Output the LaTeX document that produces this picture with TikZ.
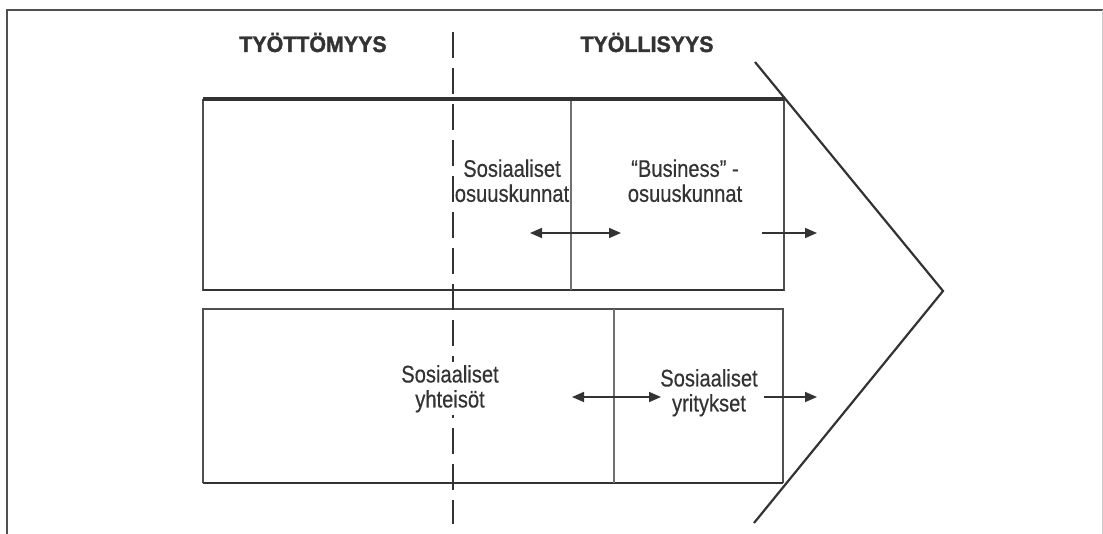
\documentclass[tikz,border=0pt]{standalone}
\usepackage{fontspec}
\setmainfont{Liberation Sans}
\newfontfamily\condfont[FakeStretch=0.84,FakeBold=0.4]{Liberation Sans}
\newfontfamily\headfont[FakeStretch=0.95,FakeBold=1.6]{Liberation Sans Bold}
\usetikzlibrary{arrows.meta}
\definecolor{ink}{HTML}{333333}
\definecolor{rule}{HTML}{505050}
\definecolor{thin}{HTML}{707070}
\tikzset{
  heading/.style={anchor=base, text=ink, inner sep=0pt,
    font=\headfont\fontsize{22.5}{22.5}\selectfont},
  label/.style={align=center, text=ink, inner sep=0pt,
    font=\condfont\fontsize{24}{25}\selectfont},
  boxline/.style={draw=rule, line width=1.4pt},
  heavyline/.style={draw=ink, line width=3.2pt},
  bottomline/.style={draw=ink, line width=2.4pt},
  divider/.style={draw=thin, line width=1.3pt},
  flow/.style={draw=ink, line width=1.6pt, -{Triangle[length=12pt,width=10pt]}},
  flow2/.style={draw=ink, line width=1.6pt, {Triangle[length=12pt,width=10pt]}-{Triangle[length=12pt,width=10pt]}},
  chevron/.style={draw=ink, line width=2.2pt},
}
\begin{document}
\begin{tikzpicture}[x=1pt,y=-1pt]
\useasboundingbox (0,0) rectangle (1103,534);

% outer frame
\draw[draw=rule, line width=2.2pt] (7,534) -- (7,10) -- (1103,10);
\draw[draw=black!20, line width=1pt] (1102,10) -- (1102,534);

% headings
\node[heading] (unemp) at (313,52) {TYÖTTÖMYYS};
\node[heading] (emp) at (647,52) {TYÖLLISYYS};

% upper box: social and business cooperatives
\draw[boxline] (203,99) -- (203,290) -- (784,290) -- (784,99);
\draw[heavyline] (203,99) -- (784,99);
\draw[bottomline] (203,290) -- (784,290);
\draw[divider] (571,101) -- (571,290);

% lower box: social communities and social enterprises
\draw[boxline] (203,483) -- (203,309) -- (783,309) -- (783,483);
\draw[bottomline] (203,483) -- (783,483);
\draw[divider] (614,309) -- (614,483);

% chevron pointing towards employment
\coordinate (cvTop) at (755,62);
\coordinate (cvTip) at (943,291);
\coordinate (cvBot) at (754,523);
\draw[chevron] (cvTop) -- (cvTip) -- (cvBot);

% border between unemployment and employment
\coordinate (sepTop) at (453,32);
\coordinate (sepBot) at (453,524);
\draw[draw=ink, line width=2.2pt, dash pattern=on 26pt off 10pt] (sepTop) -- (sepBot);

% labels
\node[label] (coop) at (512,180.75) {Sosiaaliset\\osuuskunnat};
\node[label] (biz) at (685,180.75) {“Business” -\\osuuskunnat};
\node[label, fill=white, inner ysep=3pt] (comm) at (450,388.75) {Sosiaaliset\\yhteisöt};
\node[label] (ent) at (709,392.75) {Sosiaaliset\\yritykset};

% movement arrows
\coordinate (a1l) at (530,233);
\coordinate (a1r) at (621,233);
\coordinate (a2l) at (762,233);
\coordinate (a2r) at (817,233);
\coordinate (b1l) at (572,397);
\coordinate (b1r) at (661,397);
\coordinate (b2l) at (764,397);
\coordinate (b2r) at (817,397);
\draw[flow2] (a1l) -- (a1r);
\draw[flow] (a2l) -- (a2r);
\draw[flow2] (b1l) -- (b1r);
\draw[flow] (b2l) -- (b2r);
\end{tikzpicture}
\end{document}
